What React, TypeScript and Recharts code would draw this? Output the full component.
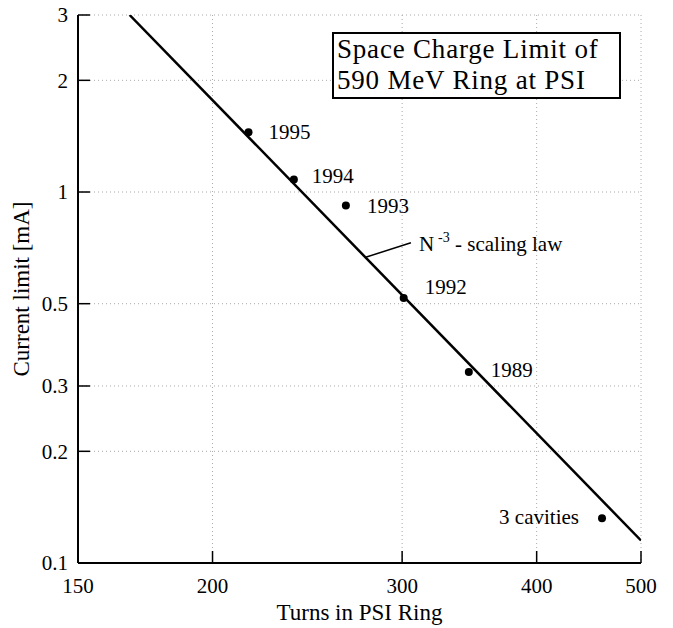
import React from "react";
import {
  CartesianGrid,
  LabelList,
  ReferenceDot,
  ReferenceLine,
  Scatter,
  ScatterChart,
  XAxis,
  YAxis,
} from "recharts";

const turns = [216, 238, 266, 301, 346, 460];
const currents = [1.45, 1.08, 0.92, 0.518, 0.327, 0.132];
const years = ["1995", "1994", "1993", "1992", "1989", "3 cavities"];

// N^-3 scaling law, its two ends
const lawTurns = [167.5, 500];
const lawCurrents = [3.0, 0.115];

// leader from the law line to its caption
const leaderTurns = [277.5, 305.7];
const leaderCurrents = [0.667, 0.73];

const xTicks = [150, 200, 300, 400, 500];
const yTicks = [0.1, 0.2, 0.3, 0.5, 1, 2, 3];

const serif = "'Liberation Serif', 'Times New Roman', serif";

const points = turns.map((t, i) => ({ x: t, y: currents[i], label: years[i] }));
const lawLine = lawTurns.map((t, i) => ({ x: t, y: lawCurrents[i] }));

const labelShift: Record<string, [number, number]> = {
  "1995": [20, 0],
  "1994": [18, -4],
  "1993": [21, 0],
  "1992": [21, -11],
  "1989": [22, -2],
  "3 cavities": [-23, -2],
};

const LeftTick = (props: any) => {
  const { x, y, payload } = props;
  return (
    <g>
      <text x={x} y={y} dy="0.35em" textAnchor="end" fontSize={21} fontFamily={serif} fill="#000">
        {String(payload.value)}
      </text>
      <line x1={x + 10} x2={x + 22} y1={y} y2={y} stroke="#000" strokeWidth={1.5} />
    </g>
  );
};

const BottomTick = (props: any) => {
  const { x, y, payload } = props;
  return (
    <g>
      <text x={x} y={y + 30} textAnchor="middle" fontSize={21} fontFamily={serif} fill="#000">
        {String(payload.value)}
      </text>
      <line x1={x} x2={x} y1={y} y2={y - 12} stroke="#000" strokeWidth={1.5} />
    </g>
  );
};

const TopTick = (props: any) => {
  const { x, y } = props;
  return <line x1={x} x2={x} y1={y} y2={y + 10} stroke="#000" strokeWidth={1.5} />;
};

const RightTick = (props: any) => {
  const { x, y } = props;
  return <line x1={x} x2={x - 10} y1={y} y2={y} stroke="#000" strokeWidth={1.5} />;
};

const PointLabel = (props: any) => {
  const vb = props.viewBox || props;
  const cx = vb.x + (vb.width || 0) / 2;
  const cy = vb.y + (vb.height || 0) / 2;
  const value = String(props.value);
  const [dx, dy] = labelShift[value] || [20, 0];
  return (
    <text
      x={cx + dx}
      y={cy + dy}
      dy="0.35em"
      textAnchor={dx < 0 ? "end" : "start"}
      fontSize={21}
      fontFamily={serif}
      fill="#000"
    >
      {value}
    </text>
  );
};

const LawCaption = (props: any) => {
  const vb = props.viewBox || props;
  const x = vb.x + (vb.width || 0) / 2 + 8;
  const y = vb.y + (vb.height || 0) / 2 + 8;
  return (
    <text x={x} y={y} fontSize={21} fontFamily={serif} fill="#000">
      <tspan>N</tspan>
      <tspan dx={4} dy={-9} fontSize={14}>-3</tspan>
      <tspan dy={9} fontSize={21}> - scaling law</tspan>
    </text>
  );
};

const App: React.FC = () => {
  return (
    <div style={{ position: "absolute", left: 0, top: 0, width: 673, height: 628, background: "#fff" }}>
      <ScatterChart
        width={673}
        height={628}
        margin={{ top: 15, right: 32, bottom: 0, left: 0 }}
      >
        <CartesianGrid stroke="#aaa" strokeDasharray="1 3" />
        <XAxis
          dataKey="x"
          type="number"
          scale="log"
          domain={[150, 500]}
          ticks={xTicks}
          allowDataOverflow
          height={65}
          tickSize={0}
          tickMargin={0}
          tickLine={false}
          axisLine={{ stroke: "#000", strokeWidth: 2 }}
          tick={<BottomTick />}
          interval={0}
          label={{
            value: "Turns in PSI Ring",
            position: "insideBottom",
            offset: 8,
            fontSize: 23,
            fontFamily: serif,
            fill: "#000",
          }}
        />
        <XAxis
          xAxisId="top"
          orientation="top"
          type="number"
          scale="log"
          domain={[150, 500]}
          ticks={xTicks}
          allowDataOverflow
          height={0}
          tickSize={0}
          tickMargin={0}
          tickLine={false}
          axisLine={{ stroke: "#000", strokeWidth: 2 }}
          tick={<TopTick />}
          interval={0}
        />
        <YAxis
          dataKey="y"
          type="number"
          scale="log"
          domain={[0.1, 3]}
          ticks={yTicks}
          allowDataOverflow
          width={78}
          tickSize={0}
          tickMargin={10}
          tickLine={false}
          axisLine={{ stroke: "#000", strokeWidth: 2 }}
          tick={<LeftTick />}
          interval={0}
          label={{
            value: "Current limit [mA]",
            angle: -90,
            position: "insideLeft",
            offset: 21,
            fontSize: 23,
            fontFamily: serif,
            fill: "#000",
            style: { textAnchor: "middle" },
          }}
        />
        <YAxis
          yAxisId="right"
          orientation="right"
          type="number"
          scale="log"
          domain={[0.1, 3]}
          ticks={yTicks}
          allowDataOverflow
          width={0}
          tickSize={0}
          tickMargin={0}
          tickLine={false}
          axisLine={{ stroke: "#000", strokeWidth: 2 }}
          tick={<RightTick />}
          interval={0}
        />
        <Scatter
          data={lawLine}
          line={{ stroke: "#000", strokeWidth: 2.5 }}
          shape={() => <g />}
          isAnimationActive={false}
        />
        <ReferenceLine
          segment={[
            { x: leaderTurns[0], y: leaderCurrents[0] },
            { x: leaderTurns[1], y: leaderCurrents[1] },
          ]}
          stroke="#000"
          strokeWidth={1.5}
        />
        <ReferenceDot
          x={leaderTurns[1]}
          y={leaderCurrents[1]}
          r={0}
          stroke="none"
          fill="none"
          label={<LawCaption />}
        />
        <Scatter
          data={points}
          shape={(p: any) => <circle cx={p.cx} cy={p.cy} r={4} fill="#000" />}
          isAnimationActive={false}
        >
          <LabelList dataKey="label" content={<PointLabel />} />
        </Scatter>
      </ScatterChart>
      <div
        style={{
          position: "absolute",
          left: 332,
          top: 32,
          width: 282,
          height: 63,
          border: "2px solid #000",
          background: "#fff",
          fontFamily: serif,
          fontSize: 27,
          letterSpacing: 0.8,
          lineHeight: "31px",
          paddingLeft: 3,
          paddingTop: 0,
          boxSizing: "content-box",
          whiteSpace: "nowrap",
          color: "#000",
        }}
      >
        Space Charge Limit of
        <br />
        590 MeV Ring at PSI
      </div>
    </div>
  );
};

export default App;
